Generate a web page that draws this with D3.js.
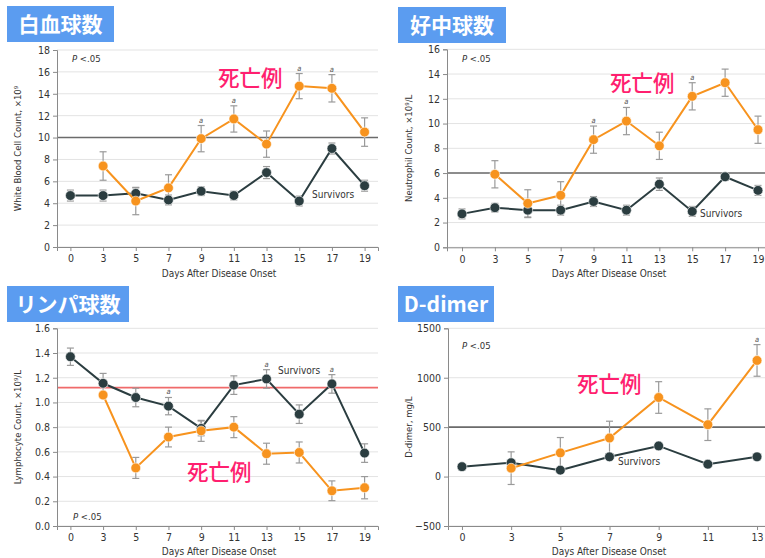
<!DOCTYPE html>
<html><head><meta charset="utf-8">
<script src="https://cdn.jsdelivr.net/npm/d3@7"></script>
<style>
html,body{margin:0;padding:0;background:#fff;}
svg{display:block;}
</style></head>
<body><svg id="c" width="765" height="558"></svg>
<script>
// ---------- data ----------
const daysA = ["0","3","5","7","9","11","13","15","17","19"];
const daysD = ["0","3","5","7","9","11","13"];

const wbcSurv    = [4.7,4.7,4.9,4.3,5.1,4.7,6.8,4.2,9.0,5.6];
const wbcSurvErr = [0.5,0.5,0.5,0.45,0.4,0.4,0.55,0.45,0.5,0.5];
const wbcDeath    = [null,7.4,4.2,5.4,9.9,11.7,9.4,14.7,14.5,10.5];
const wbcDeathErr = [null,1.3,1.25,1.2,1.2,1.2,1.2,1.15,1.25,1.3];
const wbcSig = ["9","11","15","17"];

const neuSurv    = [2.7,3.2,3.0,3.0,3.7,3.0,5.1,2.9,5.7,4.6];
const neuSurvErr = [0.4,0.35,0.6,0.4,0.4,0.4,0.5,0.4,0.3,0.4];
const neuDeath    = [null,5.9,3.55,4.2,8.7,10.2,8.2,12.2,13.3,9.5];
const neuDeathErr = [null,1.1,1.1,1.1,1.1,1.1,1.1,1.1,1.1,1.1];
const neuSig = ["9","11","15"];

const lymSurv    = [1.37,1.155,1.04,0.97,0.79,1.14,1.19,0.905,1.15,0.59];
const lymSurvErr = [0.07,0.08,0.075,0.07,0.06,0.075,0.075,0.075,0.075,0.075];
const lymDeath    = [null,1.06,0.47,0.72,0.77,0.80,0.585,0.595,0.285,0.31];
const lymDeathErr = [null,0,0.085,0.08,0.085,0.085,0.085,0.085,0.08,0.09];
const lymSig = ["7","13","17"];

const ddSurv    = [100,140,65,200,310,125,200];
const ddSurvErr = [20,25,15,20,15,20,20];
const ddDeath    = [null,85,240,390,800,525,1175];
const ddDeathErr = [null,165,155,170,160,160,160];
const ddSig = ["13"];

// ---------- panels ----------
const panels = [
  {title:"白血球数", tw:107, days:daysA, surv:wbcSurv, survErr:wbcSurvErr, death:wbcDeath, deathErr:wbcDeathErr, sig:wbcSig,
   yDomain:[0,18], yTicks:d3.range(0,19,2), fmt:d3.format("d"), refVal:10, refColor:"#6b6b6b",
   ylabel:"White Blood Cell Count, ×10⁹",
   box:[7,6], L:57, R:378, T:50, B:247, pad:0.41, ylabX:21, xlab:[219,277],
   pP:[72,62], deathLbl:[218,86], survLbl:[312,198], sigOn:"death"},
  {title:"好中球数", tw:108, days:daysA, surv:neuSurv, survErr:neuSurvErr, death:neuDeath, deathErr:neuDeathErr, sig:neuSig,
   yDomain:[0,16], yTicks:d3.range(0,17,2), fmt:d3.format("d"), refVal:6, refColor:"#6b6b6b",
   ylabel:"Neutrophil Count, ×10⁹/L",
   box:[398,7], L:447, R:773, T:49.3, B:247.3, pad:0.456, ylabX:412, xlab:[609,277],
   pP:[462,62], deathLbl:[610,91], survLbl:[700,217], sigOn:"death"},
  {title:"リンパ球数", tw:122, days:daysA, surv:lymSurv, survErr:lymSurvErr, death:lymDeath, deathErr:lymDeathErr, sig:lymSig,
   yDomain:[0,1.6], yTicks:d3.range(0,1.61,0.2), fmt:d3.format(".1f"), refVal:1.12, refColor:"#f06a6a",
   ylabel:"Lymphocyte Count, ×10⁹/L",
   box:[7,286], L:57, R:378, T:328.3, B:526, pad:0.41, ylabX:21, xlab:[219,555],
   pP:[73,520], deathLbl:[187,480], survLbl:[278,374], sigOn:"max"},
  {title:"D-dimer", tw:96, days:daysD, surv:ddSurv, survErr:ddSurvErr, death:ddDeath, deathErr:ddDeathErr, sig:ddSig,
   yDomain:[-500,1500], yTicks:[-500,0,500,1000,1500], fmt:d3.format("d"), refVal:500, refColor:"#6b6b6b",
   ylabel:"D-dimer, mg/L",
   box:[398,286], L:448, R:771, T:328.3, B:526, pad:0.284, ylabX:412, xlab:[609,555],
   pP:[462,349], deathLbl:[577,392], survLbl:[618,465], sigOn:"death"}
];

const svg = d3.select("#c");
const cond = "'DejaVu Sans Condensed','Liberation Sans Narrow',sans-serif";
const SURV = "#2b3d40", DEATH = "#f7931e", ERR = "#9a9a9a";

panels.forEach(p => {
  const g = svg.append("g");
  const x = d3.scalePoint().domain(p.days).range([p.L, p.R]).padding(p.pad);
  const y = d3.scaleLinear().domain(p.yDomain).range([p.B, p.T]);
  const clipW = Math.min(p.R, 765);

  // grid
  g.selectAll(".grid").data(p.yTicks).join("line")
    .attr("x1", p.L).attr("x2", clipW).attr("y1", d=>y(d)).attr("y2", d=>y(d))
    .attr("stroke", "#e3e3e3").attr("stroke-width", 1);

  // reference line
  g.append("line").attr("x1", p.L).attr("x2", clipW)
    .attr("y1", y(p.refVal)).attr("y2", y(p.refVal))
    .attr("stroke", p.refColor).attr("stroke-width", 1.6);

  // axes
  const ya = g.append("g").attr("transform", `translate(${p.L},0)`)
    .call(d3.axisLeft(y).tickValues(p.yTicks).tickFormat(p.fmt).tickSize(4).tickPadding(3));
  const xa = g.append("g").attr("transform", `translate(0,${p.B})`)
    .call(d3.axisBottom(x).tickSize(4).tickPadding(4));
  [ya, xa].forEach(a => {
    a.select(".domain").attr("stroke", "#8a8a8a");
    a.selectAll(".tick line").attr("stroke", "#8a8a8a");
    a.selectAll("text").attr("font-family", cond).attr("font-size", 10.5).attr("fill", "#333");
  });

  // axis labels
  g.append("text").attr("transform", `translate(${p.ylabX},${(p.T+p.B)/2}) rotate(-90)`)
    .attr("text-anchor","middle").attr("font-family", cond).attr("font-size", 9.5).attr("fill","#333")
    .text(p.ylabel);
  g.append("text").attr("x", p.xlab[0]).attr("y", p.xlab[1])
    .attr("text-anchor","middle").attr("font-family", cond).attr("font-size", 10).attr("fill","#333")
    .text("Days After Disease Onset");

  // P value
  const pt = g.append("text").attr("x", p.pP[0]).attr("y", p.pP[1])
    .attr("font-family", cond).attr("font-size", 9.5).attr("fill","#333");
  pt.append("tspan").attr("font-style","italic").text("P");
  pt.append("tspan").text(" <.05");

  const series = [
    {vals:p.surv, err:p.survErr, color:SURV},
    {vals:p.death, err:p.deathErr, color:DEATH}
  ];

  // error bars
  series.forEach(s => {
    const pts = p.days.map((d,i)=>({d, v:s.vals[i], e:s.err[i]})).filter(o=>o.v!=null && o.e>0);
    const eg = g.append("g").attr("stroke", ERR).attr("stroke-width", 1.2);
    pts.forEach(o => {
      eg.append("line").attr("x1", x(o.d)).attr("x2", x(o.d)).attr("y1", y(o.v+o.e)).attr("y2", y(o.v-o.e));
      [o.v+o.e, o.v-o.e].forEach(v => eg.append("line")
        .attr("x1", x(o.d)-3.5).attr("x2", x(o.d)+3.5).attr("y1", y(v)).attr("y2", y(v)));
    });
  });

  // lines and points
  series.forEach(s => {
    const pts = p.days.map((d,i)=>({d, v:s.vals[i]})).filter(o=>o.v!=null);
    g.append("path").datum(pts)
      .attr("d", d3.line().x(o=>x(o.d)).y(o=>y(o.v)))
      .attr("fill","none").attr("stroke", s.color).attr("stroke-width", 2);
    g.selectAll(null).data(pts).join("circle")
      .attr("cx", o=>x(o.d)).attr("cy", o=>y(o.v)).attr("r", 4.9)
      .attr("fill", s.color).attr("stroke","#fff").attr("stroke-width",0.6);
  });

  // significance markers
  p.sig.forEach(d => {
    const i = p.days.indexOf(d);
    const dTop = p.death[i]!=null ? p.death[i] + p.deathErr[i] : -Infinity;
    const sTop = p.surv[i] + p.survErr[i];
    const top = p.sigOn === "death" ? dTop : Math.max(dTop, sTop);
    g.append("text").attr("x", x(d)).attr("y", y(top) - 3)
      .attr("text-anchor","middle").attr("font-family", cond).attr("font-size", 7.5)
      .attr("font-style","italic").attr("fill","#555").text("a");
  });

  // in-plot labels
  g.append("text").attr("x", p.survLbl[0]).attr("y", p.survLbl[1])
    .attr("font-family", cond).attr("font-size", 10).attr("fill","#333").text("Survivors");
  g.append("text").attr("x", p.deathLbl[0]).attr("y", p.deathLbl[1])
    .attr("font-family", "'Noto Sans CJK JP',sans-serif").attr("font-size", 21.5).attr("font-weight", 500)
    .attr("fill","#ff1f6f").text("死亡例");

  // title box
  g.append("rect").attr("x", p.box[0]).attr("y", p.box[1]).attr("width", p.tw).attr("height", 36)
    .attr("fill", "#5b9cf0");
  g.append("text").attr("x", p.box[0] + p.tw/2).attr("y", p.box[1] + 26)
    .attr("text-anchor","middle").attr("font-family", "'Noto Sans CJK JP',sans-serif")
    .attr("font-size", 21).attr("font-weight", 700).attr("fill","#fff").text(p.title);
});
</script></body></html>
